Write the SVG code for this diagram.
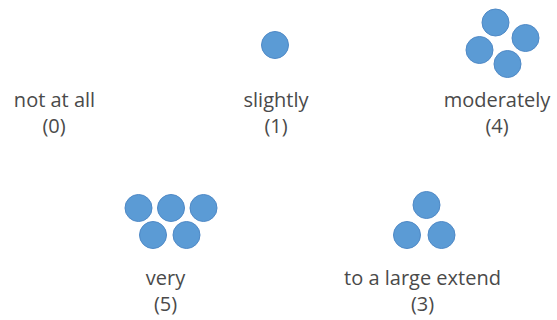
<svg xmlns="http://www.w3.org/2000/svg" width="557" height="320" viewBox="0 0 557 320">
<style>
.bg{fill:#ffffff}
.dot{fill:#5b9bd5;stroke:#4f89c6;stroke-width:1}
.lbl{font-family:"Open Sans","Noto Sans",sans-serif;font-size:20px;fill:#4a4a4a;text-anchor:middle}
</style>
<rect class="bg" x="0" y="0" width="557" height="320"/>
<g id="not-at-all">
<text class="lbl" x="54.5" y="107">not at all</text>
<text class="lbl" x="54" y="133">(0)</text>
</g>
<g id="slightly">
<circle class="dot" cx="275" cy="45" r="13.5"/>
<text class="lbl" x="276" y="107">slightly</text>
<text class="lbl" x="276" y="133">(1)</text>
</g>
<g id="moderately">
<circle class="dot" cx="495.5" cy="22.5" r="13.5"/>
<circle class="dot" cx="525.5" cy="38" r="13.5"/>
<circle class="dot" cx="479.5" cy="50" r="13.5"/>
<circle class="dot" cx="507.5" cy="64" r="13.5"/>
<text class="lbl" x="497" y="107">moderately</text>
<text class="lbl" x="497" y="133">(4)</text>
</g>
<g id="very">
<circle class="dot" cx="138.5" cy="208" r="13.5"/>
<circle class="dot" cx="171" cy="208" r="13.5"/>
<circle class="dot" cx="203.5" cy="208" r="13.5"/>
<circle class="dot" cx="153" cy="235" r="13.5"/>
<circle class="dot" cx="186.5" cy="235" r="13.5"/>
<text class="lbl" x="165.5" y="285">very</text>
<text class="lbl" x="165.5" y="311">(5)</text>
</g>
<g id="to-a-large-extend">
<circle class="dot" cx="426.5" cy="205" r="13.5"/>
<circle class="dot" cx="407" cy="235" r="13.5"/>
<circle class="dot" cx="441.5" cy="235" r="13.5"/>
<text class="lbl" x="422.5" y="285">to a large extend</text>
<text class="lbl" x="422.5" y="311">(3)</text>
</g>
</svg>
